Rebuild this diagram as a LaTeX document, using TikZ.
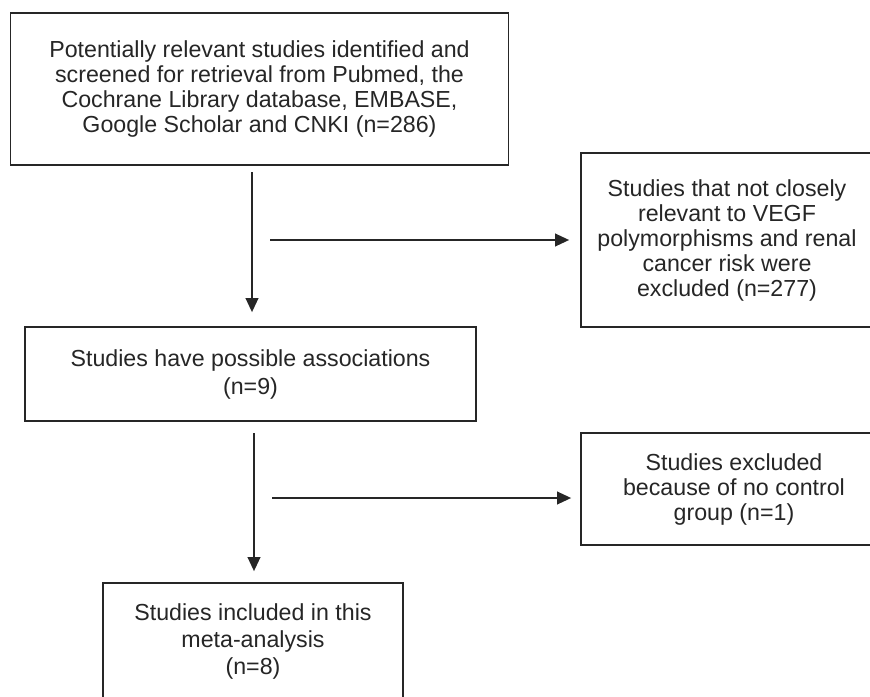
\documentclass[tikz,border=0pt]{standalone}
\usepackage{fontspec}
\setmainfont{Liberation Sans}
\usetikzlibrary{arrows.meta}
\begin{document}
\begin{tikzpicture}[x=0.75pt,y=-0.75pt,
  box/.style={draw=black!85, line width=1.3pt, rectangle, align=center, inner sep=0pt, text=black!85,
    font=\fontsize{17.4}{18.75}\selectfont},
  arr/.style={draw=black!85, line width=1.3pt, -{Triangle[length=10.5pt,width=9.5pt]}}]
\useasboundingbox (0,0) rectangle (870,696);
\clip (0,0) rectangle (870,696);
\fill[white] (0,0) rectangle (870,696);
\node[box, minimum width=373.5pt, minimum height=114pt] (b1) at (259.5,89)
  {Potentially relevant studies identified and\\screened for retrieval from Pubmed, the\\Cochrane Library database, EMBASE,\\Google Scholar and CNKI (n=286)};
\node[box, minimum width=219pt, minimum height=130.5pt] (b2) at (727,240)
  {Studies that not closely\\relevant to VEGF\\polymorphisms and renal\\cancer risk were\\excluded (n=277)};
\node[box, minimum width=338.25pt, minimum height=70.5pt, font=\fontsize{17.4}{21}\selectfont] (b3) at (250.5,374)
  {Studies have possible associations\\(n=9)};
\node[box, minimum width=229.5pt, minimum height=84pt] (b4) at (734,489)
  {Studies excluded\\because of no control\\group (n=1)};
\node[box, minimum width=225pt, minimum height=87.75pt, font=\fontsize{17.4}{20.6}\selectfont] (b5) at (253,641.5)
  {Studies included in this\\meta-analysis\\(n=8)};
\coordinate (v1) at (252,172);
\coordinate (h1) at (270,240);
\coordinate (v2) at (254,433);
\coordinate (h2) at (272,498);
\draw[arr, shorten >=10.5pt] (v1) -- (v1 |- b3.north);
\draw[arr, shorten >=8.25pt] (h1) -- (h1 -| b2.west);
\draw[arr, shorten >=8.25pt] (v2) -- (v2 |- b5.north);
\draw[arr, shorten >=6.75pt] (h2) -- (h2 -| b4.west);
\end{tikzpicture}
\end{document}
